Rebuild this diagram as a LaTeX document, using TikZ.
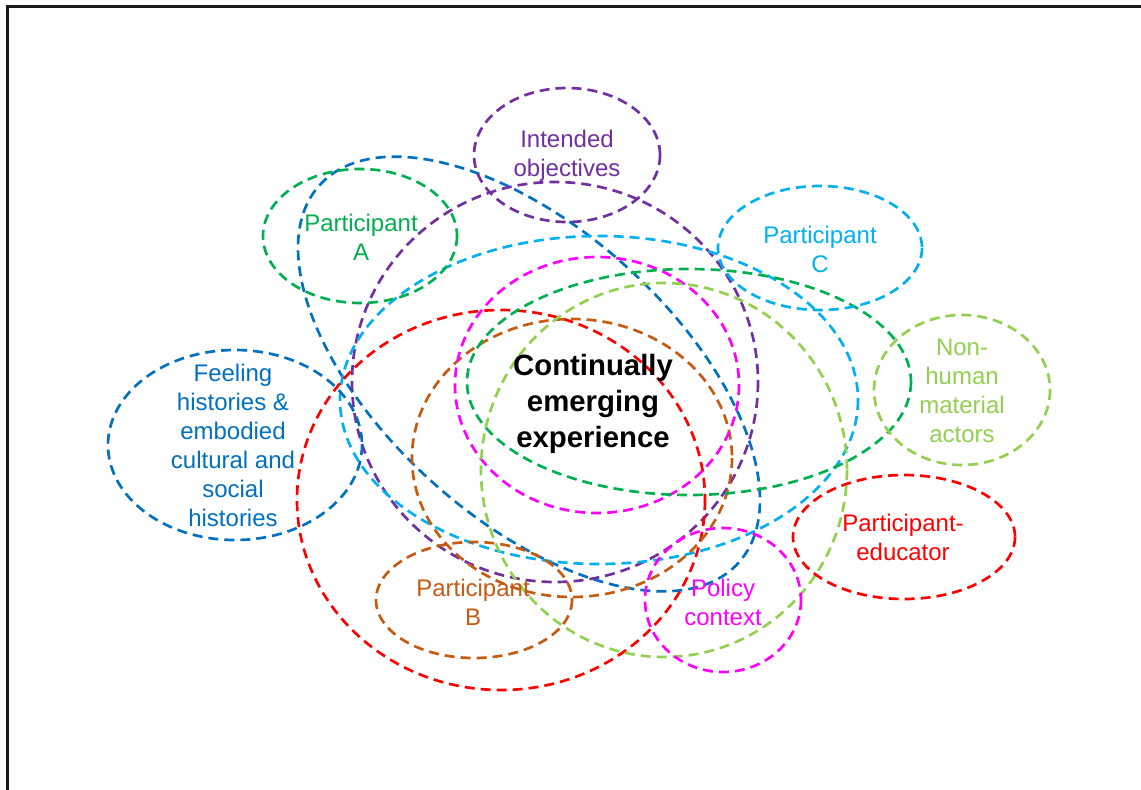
\documentclass[tikz,border=0pt]{standalone}
\usepackage{fontspec}
\setmainfont{Liberation Sans}
\begin{document}
\begin{tikzpicture}[x=0.75pt,y=-0.75pt,
  ring/.style={line width=2pt,dash pattern=on 7.5pt off 4.5pt},
  lbl/.style={align=center,inner sep=0pt,font=\fontsize{18}{21.75}\selectfont},
  core/.style={align=center,inner sep=0pt,font=\fontsize{22}{27}\selectfont\bfseries}]
\definecolor{cgreen}{HTML}{00B050}
\definecolor{cpurple}{HTML}{7030A0}
\definecolor{cblue}{HTML}{0070C0}
\definecolor{csky}{HTML}{00B0F0}
\definecolor{clime}{HTML}{92D050}
\definecolor{cred}{HTML}{FF0000}
\definecolor{cmag}{HTML}{FF00FF}
\definecolor{cbrown}{HTML}{C55A11}
\useasboundingbox (0,0) rectangle (1141,789);
\clip (0,0) rectangle (1141,789);
\fill[white] (0,0) rectangle (1141,789);
% frame running off the right and bottom edges
\draw[line width=1.9pt,black!90] (7.5,6.5) rectangle (1170,820);

% large overlapping ellipses around the centre
\draw[ring,cblue,rotate around={-42:(529,374)}] (529,374) ellipse [x radius=282,y radius=145];
\draw[ring,cpurple] (555,382) ellipse [x radius=203,y radius=200];
\draw[ring,csky] (599,400) ellipse [x radius=259,y radius=164];
\draw[ring,cred] (501,500) ellipse [x radius=204,y radius=190];
\draw[ring,cbrown] (572,458) ellipse [x radius=160,y radius=139];
\draw[ring,cmag] (597,385) ellipse [x radius=142,y radius=128];
\draw[ring,cgreen] (689,382) ellipse [x radius=222,y radius=113];
\draw[ring,clime] (664,470) ellipse [x radius=183,y radius=187];

% small labelled ellipses
\draw[ring,cgreen] (360,236) ellipse [x radius=97,y radius=67];
\draw[ring,cpurple] (567,155) ellipse [x radius=93,y radius=67];
\draw[ring,csky] (820,248) ellipse [x radius=102,y radius=62];
\draw[ring,clime] (962,390) ellipse [x radius=88,y radius=75];
\draw[ring,cred] (904,537) ellipse [x radius=111,y radius=62];
\draw[ring,cmag] (723,600) ellipse [x radius=78,y radius=72];
\draw[ring,cbrown] (474,600) ellipse [x radius=98,y radius=58];
\draw[ring,cblue] (235,445) ellipse [x radius=127,y radius=95];

% labels
\node[lbl,text=cgreen] (partA) at (361,237) {Participant\\A};
\node[lbl,text=cpurple] (objectives) at (567,156) {Intended\\objectives};
\node[lbl,text=csky] (partC) at (820,249) {Participant\\C};
\node[lbl,text=clime] (actors) at (962,391) {Non-\\human\\material\\actors};
\node[lbl,text=cred] (educator) at (903,537) {Participant-\\educator};
\node[lbl,text=cmag] (policy) at (723,602) {Policy\\context};
\node[lbl,text=cbrown] (partB) at (473,602) {Participant\\B};
\node[lbl,text=cblue] (histories) at (233,445) {Feeling\\histories \&\\embodied\\cultural and\\social\\histories};
\node[core] (experience) at (593,404) {Continually\\emerging\\experience};
\end{tikzpicture}
\end{document}
